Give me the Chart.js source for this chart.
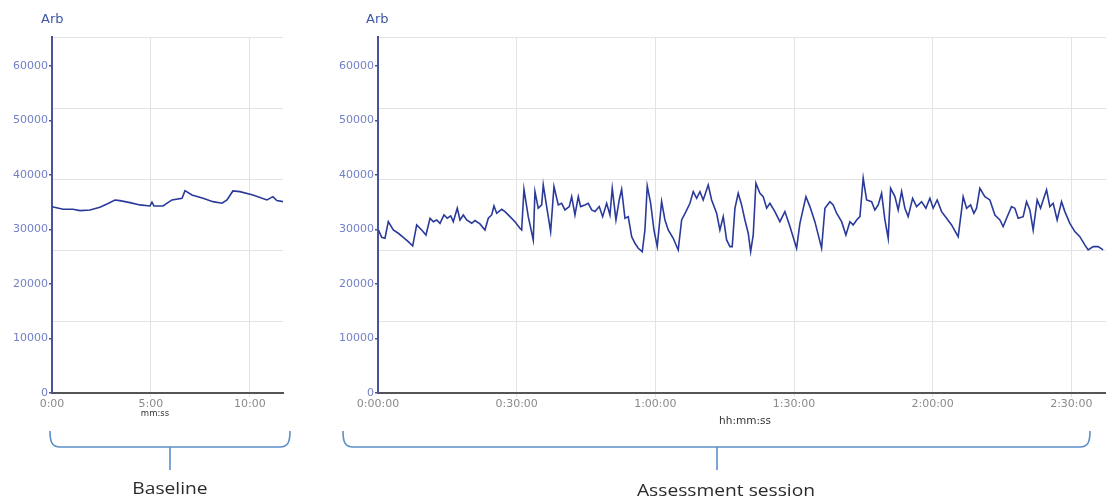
<!DOCTYPE html>
<html>
<head>
<meta charset="utf-8">
<script src="https://cdn.jsdelivr.net/npm/chart.js@4.4.1/dist/chart.umd.min.js"></script>
<style>
  html, body { margin:0; padding:0; background:#ffffff; }
  body { width:1106px; height:502px; position:relative; overflow:hidden; }
  canvas { position:absolute; }
  .lbl { position:absolute; white-space:nowrap; }
  .arb { font-family:'DejaVu Sans', sans-serif; font-size:13px; color:#3d57a5; }
  .xt { font-family:'DejaVu Sans', sans-serif; color:#333; transform:translate(-50%,-50%); }
  .cap { font-family:'Open Sans', sans-serif; font-size:16px; color:#2b2b2b; transform:translate(-50%,-50%) scaleX(1.2); }
  svg { position:absolute; left:0; top:0; }
</style>
</head>
<body>
<canvas id="c1" width="290" height="425" style="left:0;top:0"></canvas>
<canvas id="c2" width="786" height="425" style="left:320px;top:0"></canvas>

<div class="lbl arb" style="left:41px;top:11px">Arb</div>
<div class="lbl arb" style="left:366px;top:11px">Arb</div>
<div class="lbl xt" style="left:155px;top:413px;font-size:8.5px">mm:ss</div>
<div class="lbl xt" style="left:745px;top:420px;font-size:10.5px">hh:mm:ss</div>

<svg width="1106" height="502">
  <g fill="none" stroke="#5b8fc7" stroke-width="1.6">
    <path d="M50,431 C50,442 52,447 60,447 L280,447 C288,447 290,442 290,431"/>
    <path d="M170,447 L170,470"/>
    <path d="M343,431 C343,442 345,447 353,447 L1080,447 C1088,447 1090,442 1090,431"/>
    <path d="M717,447 L717,470"/>
  </g>
</svg>
<div class="lbl cap" style="left:170px;top:488px">Baseline</div>
<div class="lbl cap" style="left:726px;top:490px">Assessment session</div>

<script>
// ---- Data (minutes, arbitrary units) ----
const baselineTimes = [0, 0.56, 1.06, 1.41, 1.92, 2.42, 2.78, 3.18, 3.43, 3.94, 4.44, 4.95, 5.05, 5.15, 5.61, 6.06, 6.57, 6.72, 7.07, 7.63, 8.13, 8.59, 8.84, 9.14, 9.49, 10.15, 10.86, 11.16, 11.36, 11.67];
const baselineValues = [34180, 33700, 33700, 33450, 33580, 34070, 34680, 35410, 35290, 34920, 34500, 34310, 35000, 34310, 34310, 35410, 35720, 37120, 36330, 35720, 35100, 34800, 35410, 37060, 36940, 36330, 35410, 36020, 35290, 35100];

const sessionTimes = [0.1, 0.8, 1.51, 2.23, 3.31, 4.39, 5.47, 6.55, 7.51, 8.37, 9.45, 10.38, 11.25, 11.96, 12.7, 13.41, 14.28, 14.99, 15.73, 16.29, 17.15, 17.74, 18.45, 19.19, 20.27, 20.98, 22.06, 23.14, 23.86, 24.59, 25.09, 25.68, 26.76, 27.47, 28.55, 29.63, 30.71, 31.08, 31.58, 32.51, 33.59, 33.96, 34.67, 35.41, 35.75, 36.49, 37.35, 38.07, 39.0, 39.73, 40.45, 41.38, 41.9, 42.61, 43.33, 43.84, 44.77, 45.49, 46.22, 46.94, 47.87, 48.6, 49.47, 50.18, 50.68, 51.48, 52.19, 52.71, 53.43, 54.14, 54.88, 55.59, 56.3, 57.17, 57.75, 58.25, 58.99, 59.7, 60.41, 61.36, 62.08, 62.79, 63.87, 64.95, 65.69, 66.62, 67.49, 68.2, 68.94, 69.65, 70.36, 71.44, 72.18, 73.26, 73.97, 74.69, 75.42, 76.14, 76.63, 77.22, 77.93, 78.67, 79.38, 80.1, 80.62, 81.18, 81.76, 82.63, 83.34, 84.08, 84.79, 85.87, 86.95, 88.03, 89.12, 90.56, 91.28, 92.58, 93.44, 94.52, 95.97, 96.69, 97.77, 98.48, 99.22, 100.3, 101.23, 102.09, 102.81, 103.55, 104.26, 104.97, 105.71, 106.79, 107.5, 108.22, 108.95, 109.67, 110.38, 110.9, 111.83, 112.54, 113.28, 113.99, 114.7, 115.66, 116.52, 117.6, 118.53, 119.4, 120.11, 120.98, 121.93, 123.01, 124.09, 125.52, 126.26, 126.6, 127.34, 128.2, 128.92, 129.5, 130.21, 131.29, 132.38, 133.46, 134.54, 135.25, 135.99, 137.07, 137.78, 138.5, 139.58, 140.31, 141.03, 141.74, 142.61, 143.34, 143.9, 144.64, 145.35, 146.07, 146.93, 147.88, 148.6, 149.68, 150.76, 151.84, 152.92, 153.64, 154.72, 155.8, 156.88];
const sessionValues = [29900, 28560, 28380, 31430, 29900, 29300, 28560, 27770, 26970, 30830, 29900, 28990, 32050, 31430, 31740, 31130, 32660, 32050, 32480, 31430, 33890, 31740, 32660, 31740, 31130, 31620, 31010, 29900, 32050, 32660, 34310, 32970, 33700, 33270, 32350, 31430, 30220, 29900, 37370, 32350, 28070, 36940, 33890, 34500, 38170, 34190, 29600, 37860, 34500, 34800, 33580, 34190, 36020, 32660, 36020, 34190, 34500, 34800, 33580, 33270, 34190, 32350, 34800, 32660, 37550, 31740, 35410, 37370, 32050, 32350, 28680, 27470, 26550, 25930, 29900, 37980, 34800, 29900, 26850, 35100, 31740, 29900, 28380, 26240, 31740, 33270, 34800, 36940, 35720, 36940, 35410, 38170, 35410, 32970, 29900, 32350, 28070, 26850, 26850, 33890, 36630, 34500, 31740, 29300, 25930, 28990, 38480, 36630, 36020, 33890, 34800, 33270, 31430, 33270, 30520, 26550, 31130, 36020, 34190, 31430, 26550, 33890, 35100, 34500, 32970, 31430, 28990, 31430, 30830, 31740, 32350, 39390, 35410, 35100, 33580, 34500, 36630, 31740, 28380, 37550, 36020, 33580, 36940, 33890, 32350, 35720, 34190, 35100, 33890, 35720, 33890, 35410, 33270, 32050, 30830, 28680, 33580, 36020, 33890, 34500, 32970, 33890, 37550, 36020, 35410, 32660, 31740, 30520, 32050, 34190, 33890, 32050, 32350, 35100, 33580, 29900, 35410, 33890, 35410, 37250, 34190, 34800, 31740, 35100, 33270, 31130, 29600, 28680, 27160, 26240, 26850, 26850, 26240];

const yTickValues = [0, 10000, 20000, 30000, 40000, 50000, 60000];
const yTickLabels = ['0', '10000', '20000', '30000', '40000', '50000', '60000'];
const baselineXTicks = [0, 5, 10];
const baselineXLabels = ['0:00', '5:00', '10:00'];
const sessionXTicks = [0, 30, 60, 90, 120, 150];
const sessionXLabels = ['0:00:00', '0:30:00', '1:00:00', '1:30:00', '2:00:00', '2:30:00'];
const gridBands = [0, 1, 2, 3, 4, 5];

const Y_MAX = 65300;
const LINE_COLOR = '#2a3a9a';
const GRID_COLOR = '#e3e3e3';
const AXIS_BLUE = '#4b529c';

function makeChart(id, times, values, xMax, xTicks, xLabels, yWidth, padRight) {
  return new Chart(document.getElementById(id), {
    type: 'line',
    data: {
      datasets: [{
        data: times.map((t, i) => ({ x: t, y: values[i] })),
        borderColor: LINE_COLOR,
        borderWidth: 1.6,
        pointRadius: 0,
        tension: 0,
        fill: false
      }]
    },
    options: {
      responsive: false,
      animation: false,
      events: [],
      layout: { padding: { top: 37, right: padRight, left: 0, bottom: 0 } },
      plugins: { legend: { display: false }, tooltip: { enabled: false } },
      scales: {
        x: {
          type: 'linear', min: 0, max: xMax,
          afterBuildTicks: s => { s.ticks = xTicks.map(v => ({ value: v })); },
          afterFit: s => { s.height = 32; },
          ticks: {
            autoSkip: false, maxRotation: 0, padding: 1,
            font: { family: 'DejaVu Sans', size: 11 }, color: '#8a8a8a',
            callback: v => xLabels[xTicks.indexOf(v)]
          },
          grid: {
            color: ctx => (ctx.tick && ctx.tick.value === 0) ? 'rgba(0,0,0,0)' : GRID_COLOR,
            tickLength: 4, lineWidth: 1
          },
          border: { color: '#555555', width: 2 }
        },
        y: {
          min: 0, max: Y_MAX,
          afterBuildTicks: s => { s.ticks = yTickValues.map(v => ({ value: v })); },
          afterFit: s => { s.width = yWidth; },
          ticks: {
            padding: 1, font: { family: 'DejaVu Sans', size: 11 }, color: '#7380c6',
            callback: v => yTickLabels[yTickValues.indexOf(v)]
          },
          grid: { drawOnChartArea: false, tickLength: 3, color: AXIS_BLUE, lineWidth: 1.5 },
          border: { color: AXIS_BLUE, width: 2 }
        },
        yg: {
          position: 'left', min: 0, max: 5,
          afterBuildTicks: s => { s.ticks = gridBands.map(v => ({ value: v })); },
          afterFit: s => { s.width = 0; },
          ticks: { display: false },
          grid: {
            drawTicks: false,
            color: ctx => (ctx.tick && ctx.tick.value === 0) ? 'rgba(0,0,0,0)' : GRID_COLOR
          },
          border: { display: false }
        }
      }
    }
  });
}

makeChart('c1', baselineTimes, baselineValues, 11.67, baselineXTicks, baselineXLabels, 52, 7);
makeChart('c2', sessionTimes, sessionValues, 157.5, sessionXTicks, sessionXLabels, 58, 0);
</script>
</body>
</html>
